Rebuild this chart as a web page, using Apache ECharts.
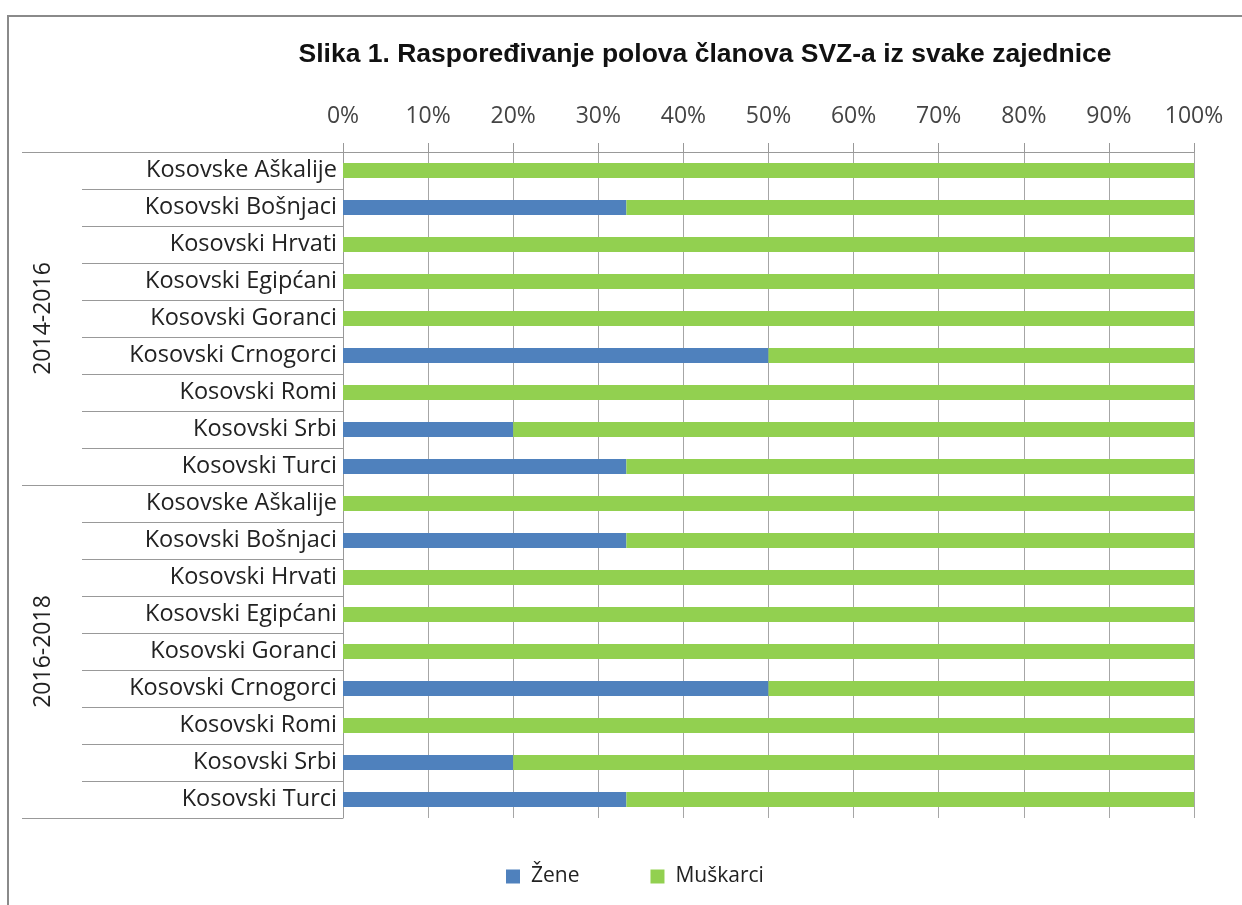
<!DOCTYPE html>
<html>
<head>
<meta charset="utf-8">
<script src="https://cdn.jsdelivr.net/npm/echarts@6/dist/echarts.min.js"></script>
<style>
  html, body { margin: 0; padding: 0; background: #fff; }
  #chart { width: 1242px; height: 905px; }
</style>
</head>
<body>
<div id="chart"></div>
<script>
// communities, listed top to bottom within each period
const communities = [
  "Kosovske Aškalije", "Kosovski Bošnjaci", "Kosovski Hrvati", "Kosovski Egipćani",
  "Kosovski Goranci", "Kosovski Crnogorci", "Kosovski Romi", "Kosovski Srbi", "Kosovski Turci"
];
const periods = ["2014-2016", "2016-2018"];
// share of women / men in percent, per period
const zene2014 = [0, 33.3, 0, 0, 0, 50, 0, 20, 33.3];
const zene2016 = [0, 33.3, 0, 0, 0, 50, 0, 20, 33.3];
const muskarci2014 = [100, 66.7, 100, 100, 100, 50, 100, 80, 66.7];
const muskarci2016 = [100, 66.7, 100, 100, 100, 50, 100, 80, 66.7];

const categories = periods.flatMap(() => communities);
const zene = zene2014.concat(zene2016);
const muskarci = muskarci2014.concat(muskarci2016);

const font = "Open Sans";
const chart = echarts.init(document.getElementById("chart"));
chart.setOption({
  animation: false,
  title: {
    text: "Slika 1. Raspoređivanje polova članova SVZ-a iz svake zajednice",
    left: 700,
    textAlign: "center",
    top: 36,
    textStyle: { fontFamily: "Liberation Sans", fontWeight: "bold", fontSize: 26.5, color: "#111" }
  },
  graphic: [{
    type: "rect",
    shape: { x: 8, y: 16, width: 1400, height: 1000 },
    style: { fill: null, stroke: "#8a8a8a", lineWidth: 2 },
    silent: true
  }],
  legend: {
    bottom: 13,
    left: 501,
    itemWidth: 14,
    itemHeight: 14,
    itemGap: 71,
    icon: "rect",
    textStyle: { fontFamily: font, fontSize: 21, color: "#222", padding: [0, 0, 0, 6] }
  },
  grid: { left: 343, right: 48, top: 152, bottom: 87 },
  xAxis: {
    type: "value",
    position: "top",
    min: 0,
    max: 100,
    interval: 10,
    axisLine: { show: true, lineStyle: { color: "#999" } },
    axisTick: { show: true, length: 9, lineStyle: { color: "#999" } },
    axisLabel: { formatter: "{value}%", margin: 24, fontFamily: font, fontSize: 23, color: "#444" },
    splitLine: { show: true, lineStyle: { color: "#a6a6a6" } }
  },
  yAxis: [{
    type: "category",
    inverse: true,
    data: categories,
    axisLine: { show: true, lineStyle: { color: "#999" } },
    axisTick: { show: true, length: 261, lineStyle: { color: "#999" } },
    axisLabel: { margin: 6, fontFamily: font, fontSize: 23.5, color: "#222" }
  }, {
    type: "category",
    inverse: true,
    position: "left",
    data: periods,
    axisLine: { show: false },
    axisTick: { show: true, length: 321, lineStyle: { color: "#999" } },
    axisLabel: { rotate: 90, margin: 288, fontFamily: font, fontSize: 23, color: "#222" }
  }],
  series: [{
    name: "Žene",
    type: "bar",
    stack: "total",
    barWidth: 15,
    itemStyle: { color: "#4f81bd" },
    data: zene
  }, {
    name: "Muškarci",
    type: "bar",
    stack: "total",
    barWidth: 15,
    itemStyle: { color: "#92d050" },
    data: muskarci
  }]
});
</script>
</body>
</html>
